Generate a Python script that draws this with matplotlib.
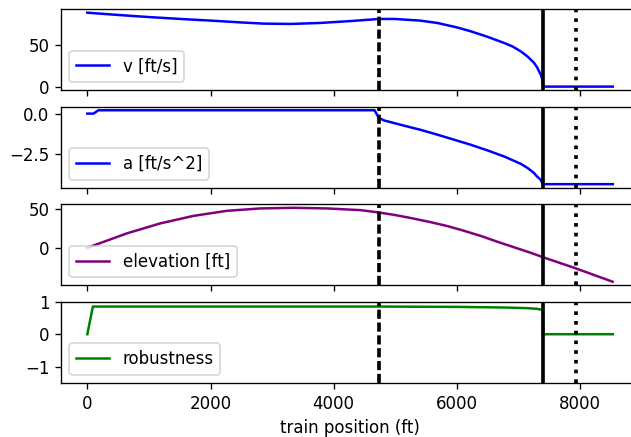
import matplotlib
matplotlib.use("Agg")
import matplotlib.pyplot as plt

# values
x_v = [0, 500, 1000, 1500, 2000, 2500, 2860, 3300, 3780, 4270, 4743, 5000,
       5400, 5681, 6000, 6223, 6500, 6765, 6900, 7036, 7150, 7253, 7300,
       7361, 7380, 7390, 7399, 7400, 8530]
v = [88, 85.3, 82.8, 80.6, 78.6, 76.4, 75.0, 74.6, 75.8, 78, 80.6, 80.5,
     78.6, 75.8, 70.5, 65.9, 59.2, 52, 47.9, 42, 35.6, 28.2, 23.1,
     14.3, 10.1, 7, 0, 0, 0]

x_a = [0, 100, 180, 4662, 4733, 4813, 5140, 5400, 5681, 6000, 6223, 6500,
       6765, 7036, 7150, 7253, 7300, 7361, 7380, 7399, 8530]
a = [0, 0, 0.21, 0.21, -0.27, -0.42, -0.75, -1.0, -1.31, -1.68, -1.94, -2.3,
     -2.67, -3.13, -3.4, -3.71, -3.92, -4.13, -4.28, -4.4, -4.4]

x_e = [0, 640, 1182, 1724, 2266, 2808, 3350, 3893, 4434, 4733, 5000, 5247,
       5570, 5850, 6114, 6400, 6657, 6930, 7199, 7405, 7930, 8527]
elev = [0, 18.6, 31.5, 41.3, 47.8, 50.9, 51.7, 50.9, 48.7, 45.7, 42.3, 38.6,
        33.2, 28.0, 22, 15.0, 7.8, 0.6, -6.5, -12.4, -26.6, -43.9]

x_r = [0, 90, 4743, 6000, 6800, 7150, 7300, 7380, 7399, 7400, 8530]
rob = [0, 0.85, 0.85, 0.84, 0.82, 0.80, 0.78, 0.75, 0.75, 0, 0]

x_dashed = 4743
x_solid = 7399
x_dotted = 7930

DPI = 120
fig, axes = plt.subplots(4, 1, sharex=True, figsize=(631 / DPI, 437 / DPI), dpi=DPI)
fig.subplots_adjust(left=0.0967, right=1.0127, top=0.9794, bottom=0.1236, hspace=0.2)

series = [
    (x_v, v, "blue", "v [ft/s]"),
    (x_a, a, "blue", "a [ft/s^2]"),
    (x_e, elev, "purple", "elevation [ft]"),
    (x_r, rob, "green", "robustness"),
]
for ax, (xs, ys, col, lab) in zip(axes, series):
    ax.plot(xs, ys, color=col, label=lab)
    ax.axvline(x_dashed, color="black", lw=2.2, linestyle=(0, (2.5, 1.0)))
    ax.axvline(x_solid, color="black", lw=2.2)
    ax.axvline(x_dotted, color="black", lw=2.2, linestyle=":")
    ax.legend(loc="lower left")

axes[0].set_ylim(-4.4, 92.4)
axes[0].set_yticks([0, 50])
axes[1].set_yticks([0.0, -2.5])
axes[1].set_yticklabels(["0.0", "\u22122.5"])
axes[2].set_yticks([0, 50])
axes[3].set_ylim(-1.5, 1)
axes[3].set_yticks([-1, 0, 1])
axes[3].set_xlim(-427, 8956)
axes[3].set_xticks([0, 2000, 4000, 6000, 8000])
axes[3].set_xlabel("train position (ft)")

fig.savefig("out.png", dpi=DPI)
